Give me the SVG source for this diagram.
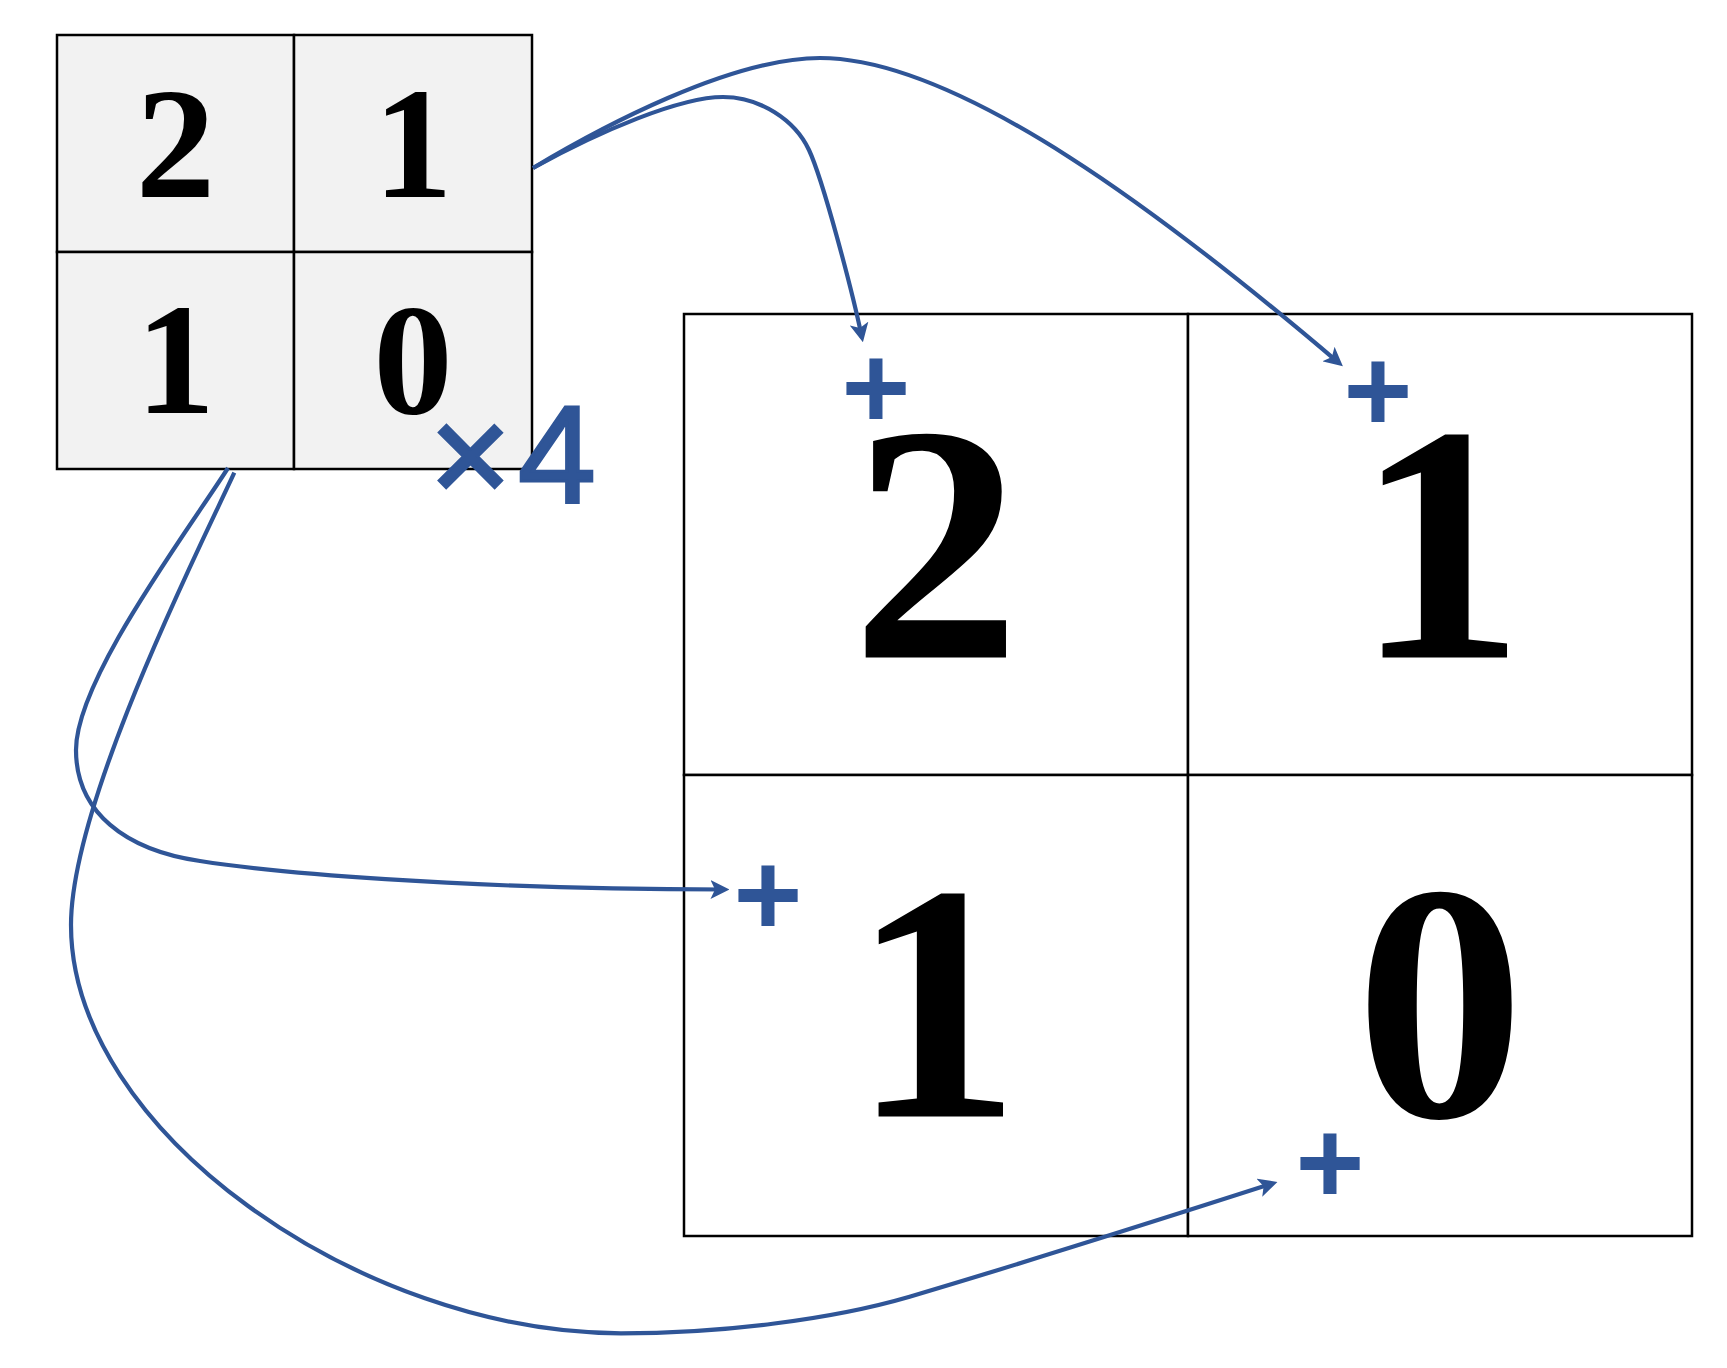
<svg xmlns="http://www.w3.org/2000/svg" width="1727" height="1368" viewBox="0 0 1727 1368">
<style>
.cell{stroke:#000;stroke-width:2.5}
.small{fill:#F2F2F2}
.big{fill:#FFFFFF}
.dig{font-family:"Liberation Serif","Times New Roman",serif;font-weight:700;fill:#000;text-anchor:middle}
.ds{font-size:159px}
.db{font-size:338px}
.conn{fill:none;stroke:#2F5597;stroke-width:4.2;marker-end:url(#arr)}
.plus{font-family:"Liberation Sans",Arial,sans-serif;font-weight:700;font-size:118px;fill:#2F5597;text-anchor:middle}
.times{font-family:"Liberation Sans",Arial,sans-serif;font-size:140px;fill:#2F5597;stroke:#2F5597;stroke-width:3}
</style>
<defs>
<marker id="arr" markerUnits="userSpaceOnUse" markerWidth="19" markerHeight="19" viewBox="0 0 19 19" refX="13.5" refY="9.5" orient="auto">
<path d="M0,0 L19,9.5 L0,19 L4.5,9.5 z" fill="#2F5597"/>
</marker>
</defs>
<rect width="1727" height="1368" fill="#FFFFFF"/>
<g id="small-grid">
<g id="s00"><rect class="cell small" x="57" y="35" width="237" height="217"/><text class="dig ds" x="175.5" y="196.7">2</text></g>
<g id="s01"><rect class="cell small" x="294" y="35" width="238" height="217"/><text class="dig ds" x="413" y="196.7">1</text></g>
<g id="s10"><rect class="cell small" x="57" y="252" width="237" height="217"/><text class="dig ds" x="175.5" y="413.3">1</text></g>
<g id="s11"><rect class="cell small" x="294" y="252" width="238" height="217"/><text class="dig ds" x="413" y="413.3">0</text></g>
</g>
<g id="big-grid">
<g id="b00"><rect class="cell big" x="684" y="314" width="504" height="461"/><text class="dig db" x="936" y="657.6">2</text></g>
<g id="b01"><rect class="cell big" x="1188" y="314" width="504" height="461"/><text class="dig db" x="1440" y="657.6">1</text></g>
<g id="b10"><rect class="cell big" x="684" y="775" width="504" height="461"/><text class="dig db" x="936" y="1116.6">1</text></g>
<g id="b11"><rect class="cell big" x="1188" y="775" width="504" height="461"/><text class="dig db" x="1440" y="1116.6">0</text></g>
</g>
<g id="connectors">
<path id="c1" class="conn" d="M533,168 C600,131 680,97 723,97 C760,97 795,120 809,150 C823,180 852,290 861.8,336.8"/>
<path id="c2" class="conn" d="M533,168 C600,128 730,58 820,58 C960,58 1171,220.2 1338.7,362.8"/>
<path id="c3" class="conn" d="M228,468 C185,535 76,680 76,750 C76,812 125,850 200,861 C270,872 450,889 724,889.5"/>
<path id="c4" class="conn" d="M234.3,472.7 C205,537 71,800 71,925 C71,1130 360,1333.3 621,1333.3 C720,1333.3 830,1320 909.6,1296.7 C1010,1267 1190,1210 1272.2,1183.6"/>
</g>
<g id="labels">
<text id="times4" class="times" y="502.7"><tspan x="429.4">×</tspan><tspan x="518">4</tspan></text>
<text id="p1" class="plus" x="876" y="427.5">+</text>
<text id="p2" class="plus" x="1378" y="431">+</text>
<text id="p3" class="plus" x="768" y="935">+</text>
<text id="p4" class="plus" x="1330" y="1203">+</text>
</g>
</svg>
